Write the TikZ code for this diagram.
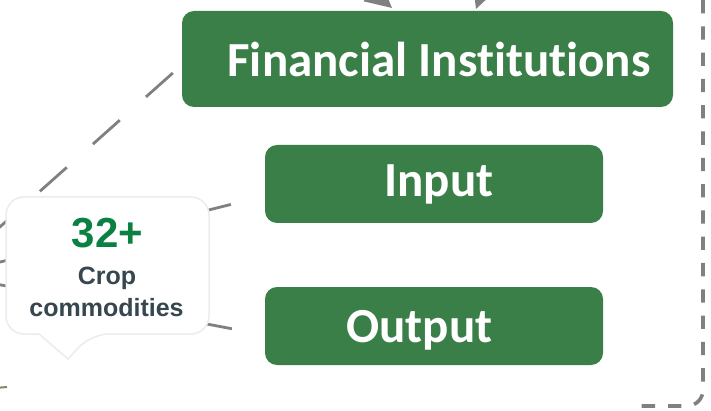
\documentclass[tikz,border=0pt]{standalone}
\usepackage{fontspec}
\setmainfont{Liberation Sans}
\newfontfamily\boxfont[RawFeature={-liga;-clig;-dlig}]{Carlito}
\newfontfamily\calfont{Liberation Sans}
\usetikzlibrary{arrows.meta}
\definecolor{boxgreen}{RGB}{58,127,72}
\definecolor{numgreen}{RGB}{11,128,67}
\definecolor{slate}{RGB}{55,71,79}
\definecolor{linegray}{RGB}{128,128,128}
\definecolor{calborder}{RGB}{236,236,236}
\definecolor{stubcol}{RGB}{120,140,110}
\tikzset{
  gbox/.style={draw=none, fill=boxgreen, rounded corners=12pt, inner sep=0pt},
  gtext/.style={text=white, font=\boxfont\bfseries\fontsize{49}{58}\selectfont, inner sep=0pt, anchor=base},
  conn/.style={draw=linegray, line width=2.8pt, dash pattern=on 36pt off 35pt},
  frameline/.style={draw=linegray, line width=3.6pt, dash pattern=on 13.3pt off 13pt},
  arrowline/.style={draw=linegray, line width=2.8pt, -{Triangle[length=26pt,width=26pt]}},
  callout/.style={fill=white, draw=calborder, line width=1.5pt},
  numtext/.style={text=numgreen, font=\calfont\bfseries\fontsize{42}{48}\selectfont, inner sep=0pt, anchor=base},
  captext/.style={text=slate, font=\calfont\bfseries\fontsize{25}{30}\selectfont, inner sep=0pt, anchor=base}
}
\begin{document}
\begin{tikzpicture}[x=1pt,y=-1pt]
\useasboundingbox (0,0) rectangle (711,411);
\clip (0,0) rectangle (711,411);
\fill[white] (0,0) rectangle (711,411);

% boxes
\node[gbox, minimum width=491pt, minimum height=96pt] (fi) at (427.5,59) {};
\node[gbox, minimum width=338pt, minimum height=78pt] (inp) at (434,184) {};
\node[gbox, minimum width=338pt, minimum height=78pt] (outp) at (434,326) {};
\node[gtext] (fitext) at (439,76.5) {Financial Institutions};
\node[gtext] (inptext) at (439,197) {Input};
\node[gtext] (outptext) at (419.5,342) {Output};

% free ends of connectors (outside the picture)
\coordinate (lfi) at (-20,244.6);
\coordinate (linp) at (-20,267);
\coordinate (loutp) at (-20,281);
\coordinate (s1) at (331,-44);
\coordinate (s2) at (503,-66);
\coordinate (t1) at (392,8);
\coordinate (t2) at (476,9);

% connectors
\draw[conn, dash phase=59pt] ([yshift=-6pt]fi.west) -- (lfi);
\draw[conn, dash phase=36pt] ([yshift=-12pt]inp.west) -- (linp);
\draw[conn, dash phase=37.5pt] ([yshift=-9pt]outp.west) -- (loutp);
\draw[arrowline] (s1) -- (t1);
\draw[arrowline] (s2) -- (t2);

% dashed frame
\draw[frameline] (703,0) -- (703,390) arc[start angle=0, end angle=-90, radius=16pt] -- (630,406);

% small stub at lower left
\draw[stubcol, line width=2pt] (-5,388) -- (7,387);

% callout
\path[callout] (39,334) [rounded corners=18pt] -- (6,334) -- (6,197) -- (209,197) -- (209,334) -- (91,334) [sharp corners] -- (68,359) -- cycle;
\node[numtext] (num) at (107.5,248) {32+};
\node[captext] (crop) at (107,284) {Crop};
\node[captext] (comm) at (106.5,316) {commodities};
\end{tikzpicture}
\end{document}
